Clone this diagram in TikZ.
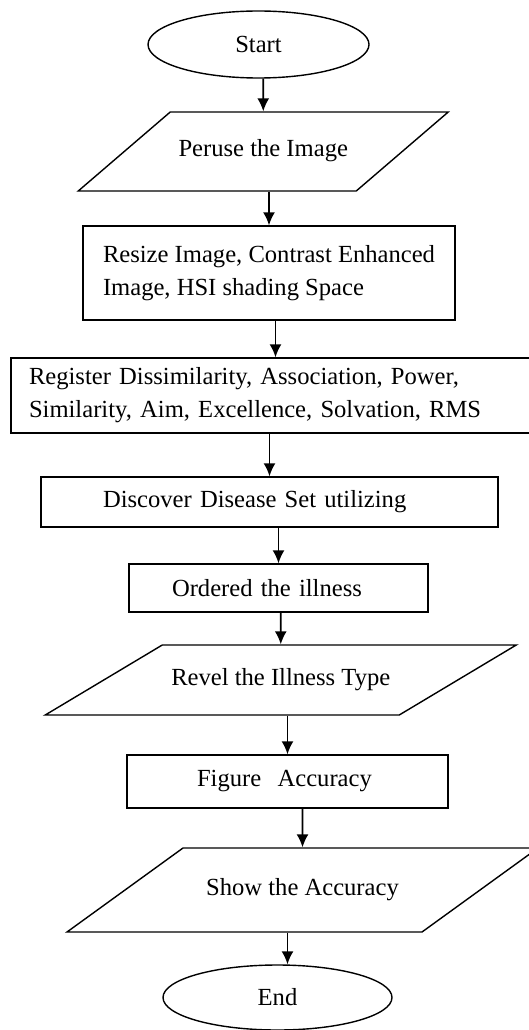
\documentclass[tikz,border=0pt]{standalone}
\usepackage{fontspec}
\setmainfont{Liberation Serif}
\usetikzlibrary{shapes.geometric, arrows.meta}
\tikzset{every node/.style={font=\fontsize{24.6}{33}\selectfont}, % Text size of all boxes
terminal/.style={ % Start and end
ellipse, draw, line width=1.4pt, inner sep=0pt},
process/.style={ % Plain steps
rectangle, draw, line width=1.4pt, align=left},
io/.style={ % Input and output steps, height comes from inner ysep
trapezium, draw, line width=1.4pt, inner xsep=0pt,
text height=17pt, text depth=6pt,
trapezium stretches body=true},
flow/.style={ % Arrows between the steps
-{Latex[length=13pt,width=12pt]}, line width=1.6pt}}

\begin{document}
\begin{tikzpicture}[x=1pt, y=1pt]

    \useasboundingbox (0,0) rectangle (528,-1030);

    \node[terminal, minimum width=221pt, minimum height=67pt] (start) at (258.5,-44.5) {Start};
    \node[io, trapezium left angle=40.65, trapezium right angle=139.35,
          minimum width=370pt, inner ysep=28pt] (peruse) at (263.25,-151.5) {Peruse the Image};
    \node[process, minimum width=372pt, minimum height=94pt] (resize) at (269,-273)
          {Resize Image, Contrast Enhanced\\Image, HSI shading Space};
    \node[process, text width=493pt, inner xsep=18pt, minimum height=75pt] (register) at (275.5,-395.5)
          {Register Dissimilarity, Association, Power,\\Similarity, Aim, Excellence, Solvation, RMS};
    \node[process, text width=333pt, inner xsep=62pt, minimum height=50pt] (discover) at (269.5,-502)
          {Discover Disease Set utilizing};
    \node[process, text width=213pt, inner xsep=43pt, minimum height=48pt] (ordered) at (278.5,-588)
          {Ordered the illness};
    \node[io, trapezium left angle=30.89, trapezium right angle=149.11,
          minimum width=471pt, inner ysep=23.5pt] (revel) at (280.75,-680) {Revel the Illness Type};
    \node[process, text width=181pt, inner xsep=70pt, minimum height=53pt] (figure) at (287.5,-781.5)
          {Figure \ Accuracy};
    \node[io, trapezium left angle=35.91, trapezium right angle=144.09,
          minimum width=471pt, inner ysep=30.5pt] (show) at (302.5,-890) {Show the Accuracy};
    \node[terminal, minimum width=229pt, minimum height=65pt] (end) at (277.5,-997.5) {End};

    \draw[flow] (start.south -| peruse) -- (peruse);
    \draw[flow] (peruse.south -| resize) -- (resize);
    \draw[flow] (resize.south -| register) -- (register);
    \draw[flow] (register.south -| discover) -- (discover);
    \draw[flow] (discover.south -| ordered) -- (ordered);
    \draw[flow] (ordered.south -| revel) -- (revel);
    \draw[flow] (revel.south -| figure) -- (figure);
    \draw[flow] (figure.south -| show) -- (show);
    \draw[flow] ([xshift=10pt]show.south -| end) -- ([xshift=10pt]end.north);

\end{tikzpicture}
\end{document}
